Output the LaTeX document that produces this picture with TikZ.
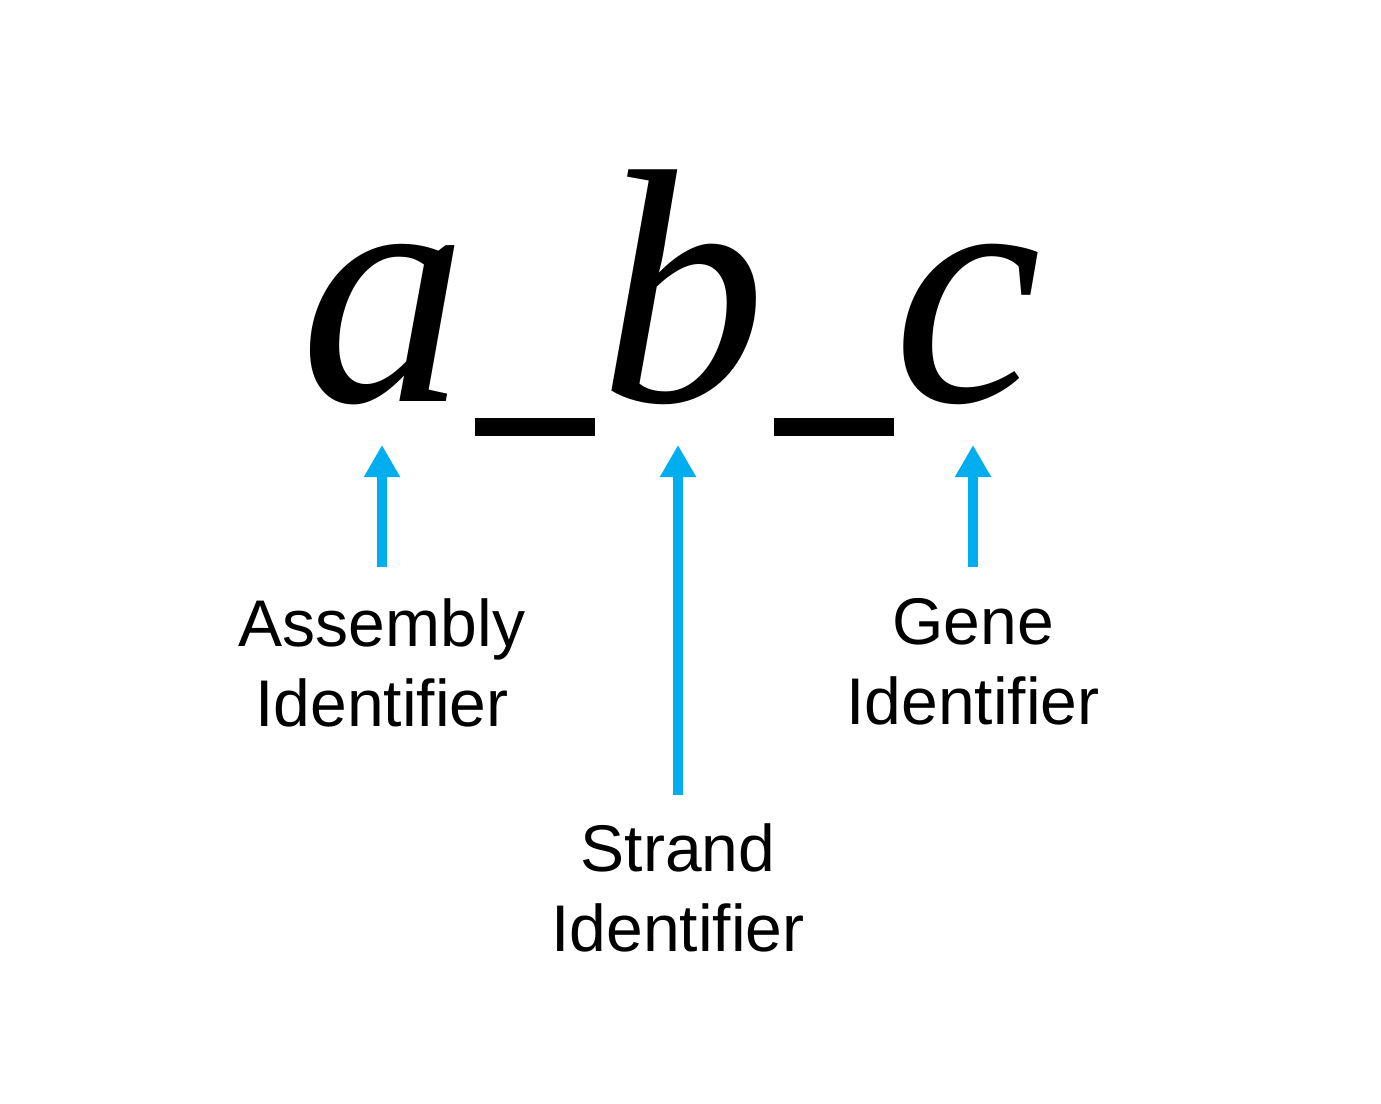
\documentclass[tikz,border=0pt]{standalone}
\usepackage{fontspec}
\setmainfont{Liberation Sans}
\newfontfamily\letterfont{Liberation Serif}
\usetikzlibrary{arrows.meta}
\definecolor{arrowcyan}{RGB}{0,174,239}
\begin{document}
\begin{tikzpicture}[x=0.5pt,y=-0.5pt,
  letter/.style={font=\letterfont\itshape\fontsize{167}{167}\selectfont, inner sep=0pt, anchor=base},
  idlabel/.style={font=\fontsize{33}{40}\selectfont, align=center, inner sep=0pt, anchor=north},
  underbar/.style={fill=black, draw=none, inner sep=0pt, minimum width=60pt, minimum height=9pt},
  arr/.style={draw=arrowcyan, line width=5pt, -{Triangle[width=17pt,length=16pt]}}]
\useasboundingbox (0,0) rectangle (1381,1103);
% identifier letters
\node[letter] (a) at (384,401) {a};
\node[underbar] (u1) at (535,427) {};
\node[letter] (b) at (683,401) {b};
\node[underbar] (u2) at (834,427) {};
\node[letter] (c) at (968,401) {c};
% labels
\node[idlabel] (la) at (382,598) {Assembly\\Identifier};
\node[idlabel] (lb) at (678,823) {Strand\\Identifier};
\node[idlabel] (lc) at (973,598) {Gene\\Identifier};
% arrow ends
\coordinate (sa) at (382,567);
\coordinate (ta) at (382,445);
\coordinate (sb) at (678,795);
\coordinate (tb) at (678,445);
\coordinate (sc) at (973,567);
\coordinate (tc) at (973,445);
\draw[arr] (sa) -- (ta);
\draw[arr] (sb) -- (tb);
\draw[arr] (sc) -- (tc);
\end{tikzpicture}
\end{document}
